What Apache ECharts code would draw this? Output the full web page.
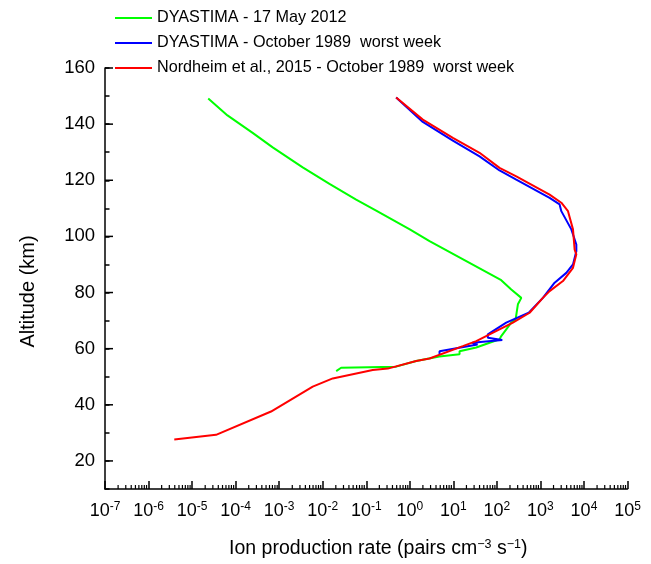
<!DOCTYPE html>
<html>
<head>
<meta charset="utf-8">
<script src="https://cdn.jsdelivr.net/npm/echarts@6/dist/echarts.min.js"></script>
<style>
html,body{margin:0;padding:0;background:#fff;}
#chart{width:651px;height:564px;}
</style>
</head>
<body>
<div id="chart"></div>
<script>
// Series names
const seriesNames = [
  'DYASTIMA - 17 May 2012',
  'DYASTIMA - October 1989  worst week',
  'Nordheim et al., 2015 - October 1989  worst week'
];
// [ion production rate (pairs cm^-3 s^-1), altitude (km)]
const greenData = [
  [2.35e-5,149.1],[6.5e-5,143.1],[2.46e-4,136.9],[7.1e-4,131.7],
  [3.47e-3,124.6],[1.43e-2,118.7],[5.86e-2,113.1],[0.169,109.2],
  [1.0,102.5],[2.84,98.3],[126,84.4],[214,81.1],[364,78.1],[304,75.8],[269,70.4],
  [214,69.3],[126,64.5],[115,63.3],[68,62.1],[33.6,60.4],[13.9,59.1],[13.9,58.0],
  [4.79,57.2],[1.40,55.6],[0.486,53.6],[0.0265,53.2],[0.0204,52.0]
];
const blueData = [
  [0.486,149.5],[1.99,140.8],[9.75,134.1],[40,128.5],[115,123.5],[279,120.2],
  [1626,113.7],[2760,111.4],[3020,109.0],[5130,102.5],[6680,97.1],[6680,94.7],
  [5600,90.0],[3930,87.0],[2120,83.5],[1140,78.1],[540,72.8],[164,69.3],[62,65.1],
  [62,63.9],[133,63.1],[27.2,62.1],[36,61.5],[4.82,59.1],[4.82,58.0]
];
const redData = [
  [0.486,149.5],[1.99,141.6],[9.75,135.1],[40,129.8],[115,124.4],[279,121.4],
  [1626,114.9],[3020,112.0],[4300,109.0],[5600,102.5],[6110,95.3],[6680,93.6],
  [5600,88.8],[3290,84.1],[1626,80.5],[1140,78.1],[565,72.8],[233,69.3],[68,65.1],
  [33.6,62.7],[16.5,60.9],[2.84,56.5],[1.40,55.6],[0.312,52.9],[0.141,52.4],
  [0.017,49.4],[5.9e-3,46.5],[6.5e-4,37.6],[3.55e-5,29.3],[3.9e-6,27.6]
];
const seriesColors = ['#00ff00','#0000ff','#ff0000'];
// Labelled (major) altitude ticks
const yMajorTicks = [[20],[40],[60],[80],[100],[120],[140],[160]];
// Minor tick positions of the logarithmic x axis (2..9 x 10^n)
const xMinorTicks = [];
for (let n = -7; n <= 4; n++) for (let k = 2; k <= 9; k++) xMinorTicks.push([k * Math.pow(10, n)]);

const FONT = 'Liberation Sans, Arial, sans-serif';
const chart = echarts.init(document.getElementById('chart'));

function lineSeries(i, data) {
  return {
    name: seriesNames[i], type: 'line', data: data, symbol: 'none', showSymbol: false,
    lineStyle: { color: seriesColors[i], width: 2 }, itemStyle: { color: seriesColors[i] },
    z: 3 + i, animation: false
  };
}

chart.setOption({
  animation: false,
  backgroundColor: '#fff',
  grid: { left: 105, right: 23.5, top: 68, bottom: 74.7 },
  legend: {
    orient: 'vertical', left: 110, top: 3, itemWidth: 37, itemHeight: 2.2, itemGap: 5,
    icon: 'rect',
    data: seriesNames,
    textStyle: { fontFamily: FONT, fontSize: 16.2, color: '#000', lineHeight: 20 }
  },
  xAxis: {
    type: 'log', logBase: 10, min: 1e-7, max: 1e5, interval: 1,
    name: 'Ion production rate (pairs cm{sup|−3} s{sup|−1})',
    nameLocation: 'middle', nameGap: 49,
    nameTextStyle: {
      fontFamily: FONT, fontSize: 19.5, color: '#000', padding: [0,0,0,24],
      rich: { sup: { fontFamily: FONT, fontSize: 12.5, color: '#000', padding: [0,0,9,0] } }
    },
    axisLine: { show: true, lineStyle: { color: '#000', width: 1.5 } },
    axisTick: { show: true, inside: true, length: 8, lineStyle: { color: '#000', width: 1.5 } },
    splitLine: { show: false },
    axisLabel: {
      margin: 12, fontFamily: FONT, fontSize: 18, color: '#000',
      formatter: function (v) { return '10{sup|' + Math.round(Math.log10(v)) + '}'; },
      rich: { sup: { fontFamily: FONT, fontSize: 12, color: '#000', padding: [0,0,9,0] } }
    }
  },
  yAxis: {
    type: 'value', min: 10, max: 160, interval: 10,
    name: 'Altitude (km)', nameLocation: 'middle', nameGap: 67,
    nameTextStyle: { fontFamily: FONT, fontSize: 20, color: '#000', padding: [0,26,0,0] },
    axisLine: { show: true, lineStyle: { color: '#000', width: 1.5 } },
    axisTick: { show: true, inside: true, length: 4.5, lineStyle: { color: '#000', width: 1.5 } },
    splitLine: { show: false },
    axisLabel: {
      margin: 10, fontFamily: FONT, fontSize: 18.5, color: '#000',
      formatter: function (v) { return (v % 20 === 0) ? String(v) : ''; }
    }
  },
  series: [
    lineSeries(0, greenData),
    lineSeries(1, blueData),
    lineSeries(2, redData),
    {
      type: 'custom', silent: true, data: xMinorTicks, encode: { x: 0 }, z: 10,
      renderItem: function (params, api) {
        const p = api.coord([api.value(0), 10]);
        return { type: 'line', shape: { x1: p[0], y1: p[1], x2: p[0], y2: p[1] - 4 },
                 style: { stroke: '#000', lineWidth: 1.2 } };
      }
    },
    {
      type: 'custom', silent: true, data: yMajorTicks, encode: { y: 0 }, z: 10,
      renderItem: function (params, api) {
        const p = api.coord([1e-7, api.value(0)]);
        return { type: 'line', shape: { x1: p[0], y1: p[1], x2: p[0] + 8, y2: p[1] },
                 style: { stroke: '#000', lineWidth: 1.5 } };
      }
    }
  ]
});
</script>
</body>
</html>
